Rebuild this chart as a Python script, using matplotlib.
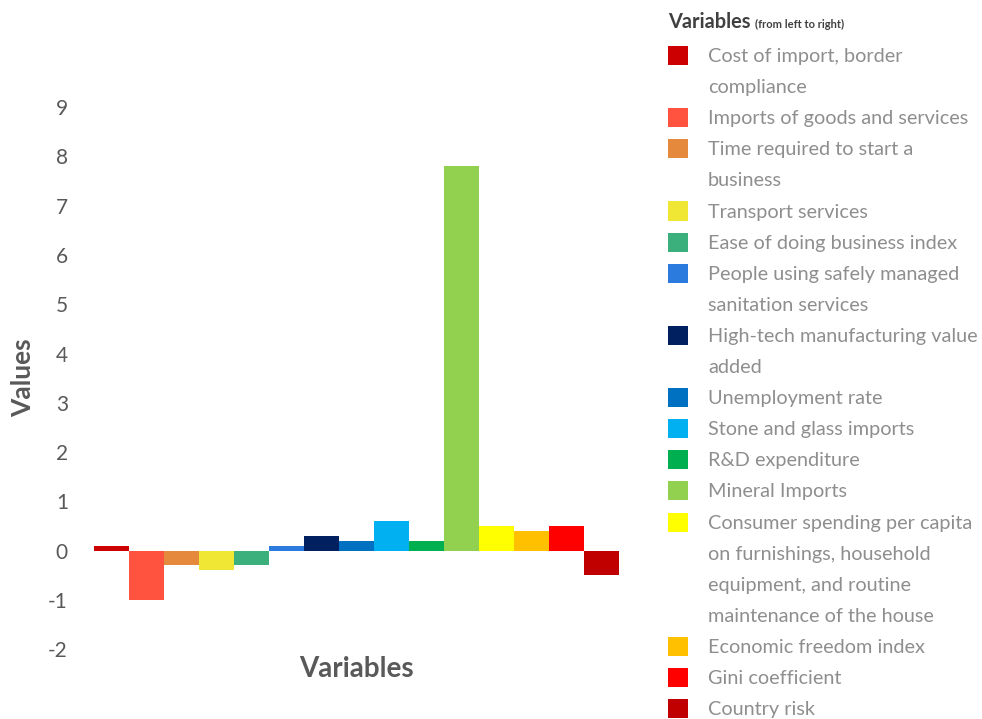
import matplotlib.pyplot as plt
from matplotlib.patches import Rectangle

variables = [
    'Cost of import, border\ncompliance',
    'Imports of goods and services',
    'Time required to start a\nbusiness',
    'Transport services',
    'Ease of doing business index',
    'People using safely managed\nsanitation services',
    'High-tech manufacturing value\nadded',
    'Unemployment rate',
    'Stone and glass imports',
    'R&D expenditure',
    'Mineral Imports',
    'Consumer spending per capita\non furnishings, household\nequipment, and routine\nmaintenance of the house',
    'Economic freedom index',
    'Gini coefficient',
    'Country risk',
]
values = [0.1, -1.0, -0.3, -0.4, -0.3, 0.1, 0.3, 0.2, 0.6, 0.2, 7.8, 0.5, 0.4, 0.5, -0.5]
colors = ['#cc0000', '#ff5340', '#e58a3c', '#f0e634', '#3cb07c', '#2b7bde', '#002060',
          '#0070c0', '#00b0f0', '#00b050', '#92d050', '#ffff00', '#ffc000', '#ff0000',
          '#c00000']
yticks = list(range(-2, 10))

plt.rcParams['font.family'] = ['Lato', 'DejaVu Sans']

W, H = 982, 719
fig = plt.figure(figsize=(W / 100, H / 100), dpi=100)
ax = fig.add_axes([94.3 / W, (H - 649.3) / H, 524.7 / W, 542.3 / H])

x = list(range(len(values)))
ax.bar(x, values, width=1.0, color=colors, linewidth=0)
ax.set_xlim(-0.5, len(values) - 0.5)
ax.set_ylim(-2, 9)
ax.set_yticks(yticks)
ax.set_yticklabels([str(t) for t in yticks])
ax.set_xticks([])
ax.tick_params(axis='y', length=0, pad=19, labelsize=15, labelcolor='#595959')
for s in ax.spines.values():
    s.set_visible(False)

ax.set_ylabel('Values', fontsize=19, fontweight='bold', color='#595959')
ax.yaxis.set_label_coords(-0.112, 0.5)
ax.set_xlabel('Variables', fontsize=20, fontweight='bold', color='#595959')
ax.xaxis.set_label_coords(0.5, -0.012)

# legend drawn by hand so wrapped labels keep an even line pitch
def fy(py):
    return (H - py) / H

fig.text(668 / W, fy(28), 'Variables', fontsize=14.4, fontweight='bold',
         color='#404040', va='baseline')
fig.text(755 / W, fy(28), '(from left to right)', fontsize=8, fontweight='bold',
         color='#404040', va='baseline')

step = 31.1
line = 0
for label, c in zip(variables, colors):
    base = 62 + step * line
    fig.add_artist(Rectangle((668 / W, fy(base + 3)), 20 / W, 19 / H,
                             transform=fig.transFigure, color=c, linewidth=0))
    for k, part in enumerate(label.split('\n')):
        fig.text(708 / W, fy(base + step * k), part, fontsize=14.3,
                 color='#8e8e8e', va='baseline')
    line += label.count('\n') + 1

fig.savefig('out.png', dpi=100)
